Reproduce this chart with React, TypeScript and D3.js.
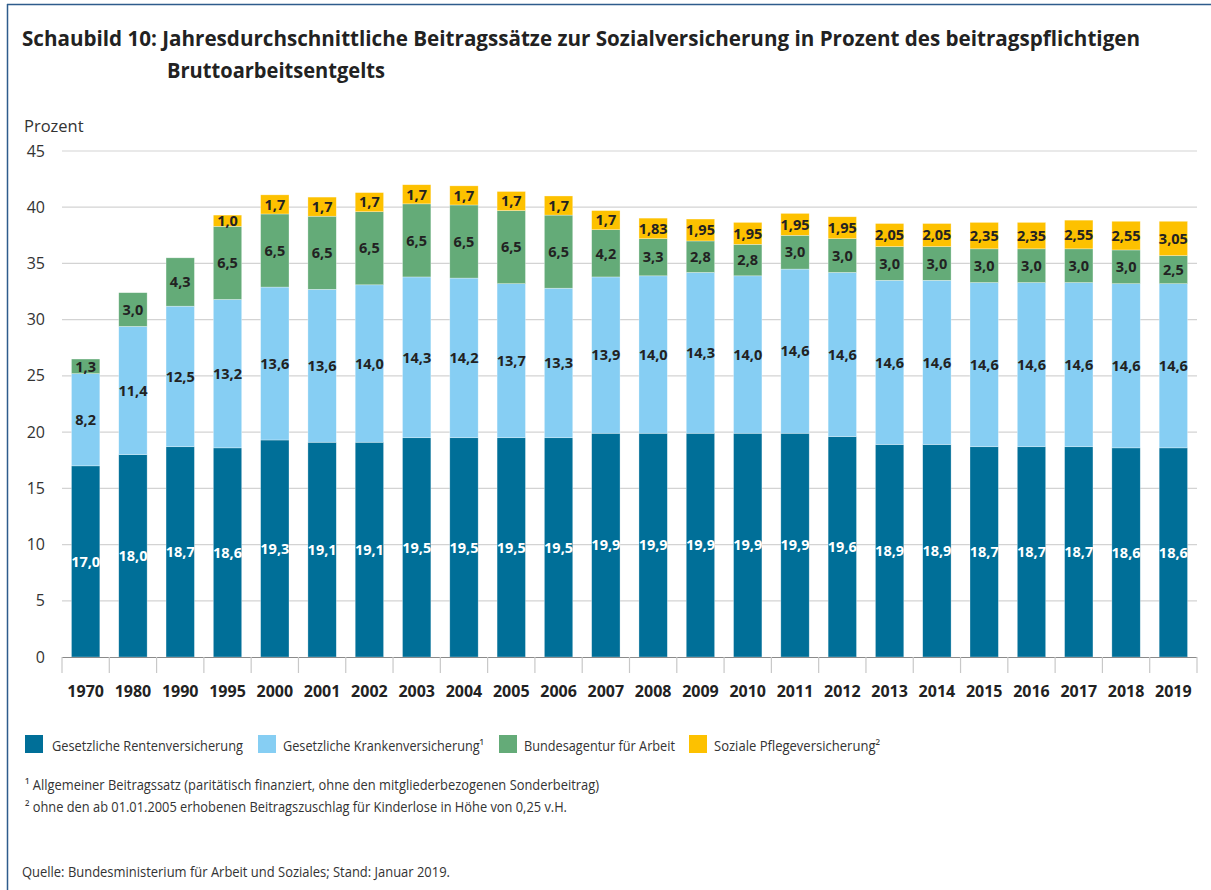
import React from "react";
import * as d3 from "d3";

const years = ["1970","1980","1990","1995","2000","2001","2002","2003","2004","2005","2006","2007","2008","2009","2010","2011","2012","2013","2014","2015","2016","2017","2018","2019"];
const renten = [17.0,18.0,18.7,18.6,19.3,19.1,19.1,19.5,19.5,19.5,19.5,19.9,19.9,19.9,19.9,19.9,19.6,18.9,18.9,18.7,18.7,18.7,18.6,18.6];
const kranken = [8.2,11.4,12.5,13.2,13.6,13.6,14.0,14.3,14.2,13.7,13.3,13.9,14.0,14.3,14.0,14.6,14.6,14.6,14.6,14.6,14.6,14.6,14.6,14.6];
const arbeit = [1.3,3.0,4.3,6.5,6.5,6.5,6.5,6.5,6.5,6.5,6.5,4.2,3.3,2.8,2.8,3.0,3.0,3.0,3.0,3.0,3.0,3.0,3.0,2.5];
const pflege = [0,0,0,1.0,1.7,1.7,1.7,1.7,1.7,1.7,1.7,1.7,1.83,1.95,1.95,1.95,1.95,2.05,2.05,2.35,2.35,2.55,2.55,3.05];
const yTicks = [0,5,10,15,20,25,30,35,40,45];

const seriesKeys = ["renten","kranken","arbeit","pflege"];
const seriesNames = ["Gesetzliche Rentenversicherung","Gesetzliche Krankenversicherung¹","Bundesagentur für Arbeit","Soziale Pflegeversicherung²"];
const colors = ["#006F98","#86CEF3","#64AB78","#FDC100"];
const labelColors = ["#ffffff","#222222","#222222","#222222"];

const FONT = "'Open Sans', 'Noto Sans', sans-serif";

function fmt(v: number) {
  const s = Math.abs(v * 10 - Math.round(v * 10)) < 1e-6 ? v.toFixed(1) : v.toFixed(2);
  return s.replace(".", ",");
}

export default function App() {
  const W = 1211, H = 890;
  const left = 62, right = 1197, top = 151, bottom = 657;
  const rows = years.map((y, i) => ({ year: y, renten: renten[i], kranken: kranken[i], arbeit: arbeit[i], pflege: pflege[i] }));
  const x = d3.scaleBand<string>().domain(years).range([left, right]).paddingInner(0.4).paddingOuter(0.2);
  const y = d3.scaleLinear().domain([0, 45]).range([bottom, top]);
  const stacked = d3.stack<any>().keys(seriesKeys)(rows);
  const step = x.step();
  const legendSq = [25, 258, 499, 689];
  const legendTx = [52, 283, 524, 714];
  const legendW = [191, 201, 151, 166];

  return (
    <svg width={W} height={H} style={{ position: "absolute", left: 0, top: 0, background: "#fff" }} fontFamily={FONT}>
      <rect x={0} y={0} width={W} height={H} fill="#fff" />
      <line x1={7.5} x2={7.5} y1={4} y2={H} stroke="#2E5C8C" strokeWidth={1.5} />
      <line x1={7} x2={W} y1={4.5} y2={4.5} stroke="#2E5C8C" strokeWidth={1.5} />

      <text x={22} y={46} fontSize={20.5} fontWeight={700} fill="#222" textLength={1118} lengthAdjust="spacingAndGlyphs">
        Schaubild 10: Jahresdurchschnittliche Beitragssätze zur Sozialversicherung in Prozent des beitragspflichtigen
      </text>
      <text x={167} y={78} fontSize={20.5} fontWeight={700} fill="#222" textLength={218} lengthAdjust="spacingAndGlyphs">
        Bruttoarbeitsentgelts
      </text>

      <text x={24} y={132} fontSize={16.5} fill="#333">Prozent</text>

      {yTicks.map(t => (
        <g key={t}>
          {t > 0 && <line x1={left} x2={right} y1={y(t)} y2={y(t)} stroke="#d3d3d3" strokeWidth={1.2} />}
          <text x={45} y={y(t)} dy="0.35em" textAnchor="end" fontSize={16} fill="#333">{t}</text>
        </g>
      ))}

      {stacked.map((s, si) => (
        <g key={s.key}>
          {s.map((d, i) => {
            const v = d[1] - d[0];
            if (v <= 0) return null;
            return (
              <rect key={i} x={x(years[i])!} width={x.bandwidth()} y={y(d[1])} height={y(d[0]) - y(d[1])}
                fill={colors[si]} stroke="#ffffff" strokeOpacity={0.5} strokeWidth={0.6} />
            );
          })}
        </g>
      ))}
      {stacked.map((s, si) => (
        <g key={"l" + s.key}>
          {s.map((d, i) => {
            const v = d[1] - d[0];
            if (v <= 0) return null;
            return (
              <text key={i} x={x(years[i])! + x.bandwidth() / 2} y={(y(d[0]) + y(d[1])) / 2} dy="0.36em"
                textAnchor="middle" fontSize={14.5} fontWeight={700} fill={labelColors[si]}>{fmt(v)}</text>
            );
          })}
        </g>
      ))}

      <line x1={left} x2={right} y1={bottom + 0.5} y2={bottom + 0.5} stroke="#8a8a8a" strokeWidth={1.2} />
      {d3.range(years.length + 1).map(i => (
        <line key={i} x1={left + i * step} x2={left + i * step} y1={bottom} y2={bottom + 16} stroke="#c8c8c8" strokeWidth={1.2} />
      ))}
      {years.map(yr => (
        <text key={yr} x={x(yr)! + x.bandwidth() / 2} y={697} textAnchor="middle" fontSize={16} fontWeight={700} fill="#222">{yr}</text>
      ))}

      {seriesNames.map((n, i) => (
        <g key={n}>
          <rect x={legendSq[i]} y={735} width={18} height={18} fill={colors[i]} />
          <text x={legendTx[i]} y={751} fontSize={14} fill="#333" textLength={legendW[i]} lengthAdjust="spacingAndGlyphs">{n}</text>
        </g>
      ))}

      <text x={25} y={790} fontSize={14} fill="#333" textLength={574} lengthAdjust="spacingAndGlyphs">¹ Allgemeiner Beitragssatz (paritätisch finanziert, ohne den mitgliederbezogenen Sonderbeitrag)</text>
      <text x={25} y={812} fontSize={14} fill="#333" textLength={542} lengthAdjust="spacingAndGlyphs">² ohne den ab 01.01.2005 erhobenen Beitragszuschlag für Kinderlose in Höhe von 0,25 v.H.</text>
      <text x={22} y={877} fontSize={14} fill="#333" textLength={428} lengthAdjust="spacingAndGlyphs">Quelle: Bundesministerium für Arbeit und Soziales; Stand: Januar 2019.</text>
    </svg>
  );
}
